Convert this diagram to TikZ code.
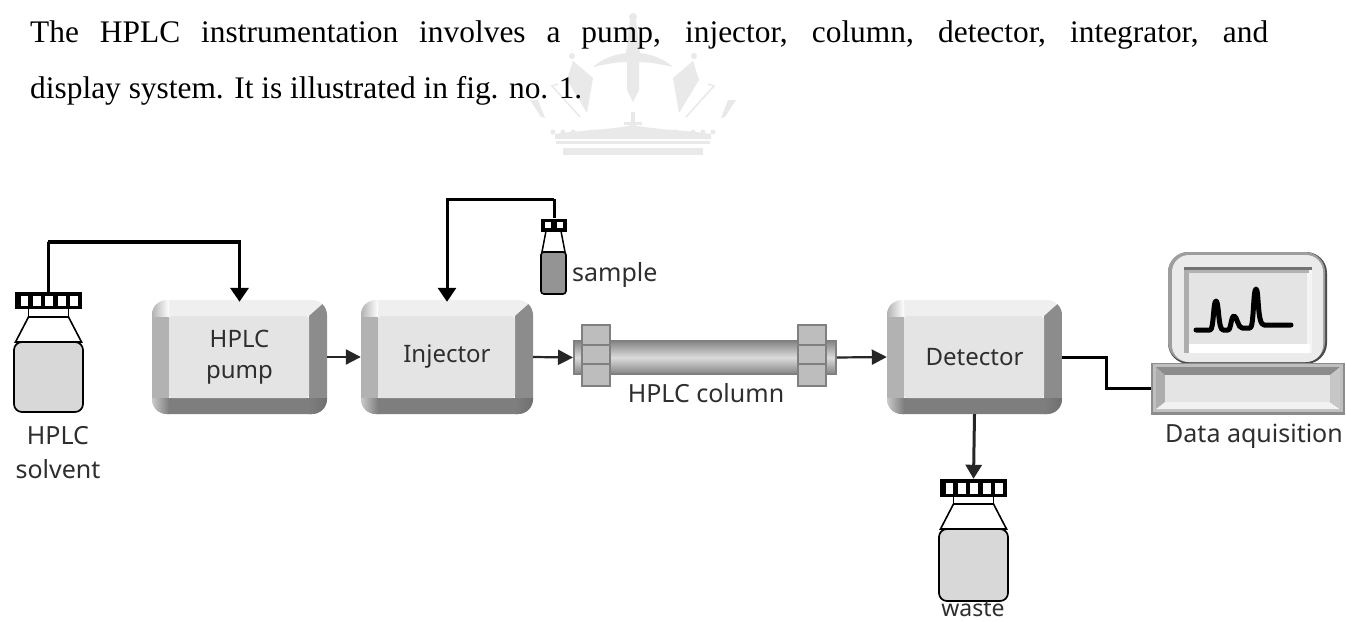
\documentclass[tikz,border=0pt]{standalone}
\usepackage{fontspec}
\usetikzlibrary{arrows.meta,calc}
\setmainfont{Liberation Serif}
\newfontfamily\labfont{Noto Sans}
\definecolor{wm}{HTML}{E9E9E9}
\definecolor{face}{HTML}{E4E4E4}
\definecolor{liquid}{HTML}{D8D8D8}
\definecolor{bevT}{HTML}{EFEFEF}
\definecolor{bevL}{HTML}{B2B2B2}
\definecolor{bevR}{HTML}{8C8C8C}
\definecolor{bevB}{HTML}{7E7E7E}
\definecolor{lab}{HTML}{2E2E2E}
\newcommand{\dn}[1]{\raisebox{-4pt}{#1}}
\tikzset{
 body/.style={font=\fontsize{31.4}{34}\selectfont,anchor=base west,inner sep=0,text=black},
 lbl/.style={font=\labfont\fontsize{25}{34}\selectfont,text=lab,align=center,inner sep=0},
 bevelbox/.style={rectangle,rounded corners=15pt,minimum width=175pt,minimum height=114pt,inner sep=0,
   font=\labfont\fontsize{24}{31}\selectfont,text=lab,align=center,
   path picture={
     \coordinate (nw) at (path picture bounding box.north west);
     \coordinate (ne) at (path picture bounding box.north east);
     \coordinate (sw) at (path picture bounding box.south west);
     \coordinate (se) at (path picture bounding box.south east);
     \coordinate (inw) at ($(nw)+(17,16)$);
     \coordinate (ine) at ($(ne)+(-18,16)$);
     \coordinate (isw) at ($(sw)+(17,-16)$);
     \coordinate (ise) at ($(se)+(-18,-16)$);
     \begin{scope}[sharp corners]
     \fill[bevT] (nw)--(ne)--(ine)--(inw)--cycle;
     \fill[bevL] (nw)--(inw)--(isw)--(sw)--cycle;
     \fill[bevR] (ne)--(ine)--(ise)--(se)--cycle;
     \fill[bevB] (sw)--(isw)--(ise)--(se)--cycle;
     \shade[left color=bevL,right color=white] (nw) rectangle (inw);
     \shade[left color=bevT,right color=bevR] ($(ne)+(-18,0)$) rectangle (ine);
     \shade[left color=bevL!70!white,right color=bevB] ($(sw)+(0,-16)$) rectangle ($(sw)+(17,0)$);
     \shade[left color=bevB,right color=bevR!80!black] ($(se)+(-18,-16)$) rectangle (se);
     \fill[face,rounded corners=3pt] (inw) rectangle (ise);
     \end{scope}
   }},
 flow/.style={line width=2.2pt,draw=black!85,-{Triangle[width=15pt,length=15pt]}},
 feed/.style={line width=3.4pt,draw=black,shorten >=-2pt,-{Triangle[width=18pt,length=14pt]}},
 capbox/.style={rectangle,fill=black,inner sep=0},
 nut/.style={fill=black!26,draw=black!50,line width=2.4pt},
 wmfill/.style={fill=wm,draw=none}
}
\newcommand{\drawbottle}[3]{% x centre, cap top, body bottom (relative to cap top)
 \begin{scope}[shift={(#1,#2)}]
  \draw[black,line width=1.8pt,fill=white] (-20,16)--(-20,25)--(20,25)--(20,16);
  \draw[black,line width=1.6pt,fill=white] (-20,25)--(-33,50)--(33,50)--(20,25)--cycle;
  \draw[black,line width=1.7pt,fill=liquid,rounded corners=8pt] (-34.5,50)--(34.5,50)--(34.5,#3)--(-34.5,#3)--cycle;
 \end{scope}}
\begin{document}
\begin{tikzpicture}[x=1pt,y=-1pt]
\useasboundingbox (0,0) rectangle (1346,621);
\fill[white] (0,0) rectangle (1346,621);

% watermark crown
\fill[wmfill] (633,17) circle (4);
\fill[wmfill] (630,20)--(636,20)--(640,53) .. controls (655,55) and (665,60) .. (673,67) .. controls (660,64) and (648,62) .. (639,62)--(639,90)--(633,102)--(627,90)--(627,62) .. controls (618,62) and (606,64) .. (593,67) .. controls (601,60) and (611,55) .. (626,53)--cycle;
\foreach \m/\s in {0/1,1266/-1}{
 \begin{scope}[shift={(\m,0)},x=\s pt]
  \fill[wmfill] (572,56) circle (3);
  \fill[wmfill] (573,61)--(593,78)--(587,113)--(567,80)--cycle;
  \fill[wmfill] (530,100)--(538,100)--(545,118)--(541,117)--cycle;
  \draw[wm,line width=1.5pt] (558,84)--(552,86)--(580,117);
  \foreach \xx in {553,563,573,590,612}{\fill[wmfill] (\xx,132) circle (2.5);}
 \end{scope}}
\fill[wmfill] (555,134) .. controls (580,130) and (610,130) .. (633,125) .. controls (656,130) and (686,130) .. (711,134)--(711,139)--(555,139)--cycle;
\fill[wmfill] (631,112) rectangle (635,128);
\fill[wmfill] (624,122) rectangle (642,125);
\fill[wmfill] (556,141) rectangle (710,144);
\fill[wmfill] (563,148) rectangle (703,155);

% body text
\node[body] (line1) at (30,42.5) {\makebox[1238pt][s]{The HPLC instrumentation involves a pump, injector, column, detector, integrator, and}};
\node[body] (line2) at (30,98.5) {display system. It is illustrated in fig. no. 1.};

% bottles
\drawbottle{48.5}{292}{120}
\node[capbox,minimum width=67pt,minimum height=17pt] (solventcap) at (48.5,300.5) {};
\foreach \a/\b in {-28/-21,-16/-8,-4/4,9/17,21/29}{\fill[white] (48.5+\a,296) rectangle (48.5+\b,306);}
\drawbottle{973.5}{479}{122}
\node[capbox,minimum width=67pt,minimum height=18pt] (wastecap) at (973.5,488) {};
\foreach \a/\b in {-28/-21,-16/-8,-4/4,9/17,21/29}{\fill[white] (973.5+\a,483) rectangle (973.5+\b,494);}

% sample vial
\draw[black,line width=1.5pt,fill=white] (546,231)--(542,252)--(565,252)--(561,231)--cycle;
\draw[black,line width=1.6pt,fill=black!42,rounded corners=3pt] (541,252) rectangle (566,294);
\node[capbox,minimum width=26pt,minimum height=13pt] (samplecap) at (554,225) {};
\fill[white] (545,222) rectangle (551,228);
\fill[white] (557,222) rectangle (563,228);

% boxes
\node[bevelbox] (pump) at (239.5,357) {\dn{HPLC}\\\dn{pump}};
\node[bevelbox,minimum width=172pt] (injector) at (447,357) {\dn{Injector}};
\node[bevelbox] (detector) at (974.5,357) {\dn{Detector}};

% column
\node[rectangle,minimum width=262pt,minimum height=33pt,inner sep=0,draw=black!50,line width=2pt,
      top color=black!48,bottom color=black!48,middle color=black!14] (column) at (705,357.5) {};
\foreach \xa/\xb in {582/610,798/826}{
 \draw[nut] (\xa,325) rectangle (\xb,386);
 \draw[black!50,line width=2.2pt] (\xa,345)--(\xb,345) (\xa,364)--(\xb,364);
}

% monitor
\fill[black!70,rounded corners=21pt] (1168,252) rectangle (1327,364);
\fill[black!38,rounded corners=20pt] (1168,252) rectangle (1325,362);
\fill[black!8,rounded corners=17pt] (1172,255) rectangle (1323,362);
\fill[black!55] (1184,267) rectangle (1312,353);
\fill[black!32] (1184,270) rectangle (1189,353);
\fill[black!4] (1307,270) rectangle (1312,353);
\fill[black!30] (1187,270) rectangle (1309,273);
\fill[face] (1189,273) rectangle (1307,344);
\fill[white] (1189,344) rectangle (1310,353);
\draw[black,line width=5pt,line join=round,line cap=round]
 (1196,330)--(1210,330) .. controls (1214,330) and (1213,301) .. (1216,301)
 .. controls (1219,301) and (1218,330) .. (1223,330)--(1228,330)
 .. controls (1231,330) and (1231,316) .. (1234,316) .. controls (1237,316) and (1238,328) .. (1242,328)--(1250,328)
 .. controls (1254,328) and (1253,289) .. (1256,289) .. controls (1259,289) and (1257,325) .. (1264,325)--(1291,325);

% base
\node[rectangle,minimum width=194pt,minimum height=52pt,inner sep=0,fill=black!45] (base) at (1248,388.5) {};
\fill[black!25] (1153,364) rectangle (1343,412);
\fill[black!60] (1156,367) rectangle (1340,409);
\fill[black!45] (1156,367)--(1340,367)--(1330,375)--(1165,375)--cycle;
\fill[black!32] (1156,367)--(1165,375)--(1165,402)--(1156,409)--cycle;
\fill[black!5] (1156,409)--(1165,402)--(1330,402)--(1340,409)--cycle;
\fill[black!22] (1340,367)--(1330,375)--(1330,402)--(1340,409)--cycle;
\fill[face] (1165,375) rectangle (1330,402);

% connectors
\coordinate (solventrun) at (48,242);
\coordinate (samplerun) at (554,199);
\coordinate (kink) at (1106,388.5);
\draw[line width=3.2pt] (solventcap.north) |- (solventrun);
\draw[feed] (solventrun) -| (pump.north);
\draw[line width=3pt] (samplecap.north) |- (samplerun);
\draw[feed,line width=3pt] (samplerun) -| (injector.north);
\draw[flow] (pump.east) -- (injector.west);
\draw[flow] (injector.east) -- (column.west);
\draw[flow] (column.east) -- (detector.west);
\draw[line width=3pt] (detector.east) -| (kink) |- (base.west);
\draw[flow,line width=3pt,-{Triangle[width=16pt,length=14pt]}] (detector.south) -- (wastecap.north);

% labels
\node[lbl] (solventlabel) at (58,453) {HPLC\\solvent};
\node[lbl,anchor=west] (samplelabel) at (572,275) {sample};
\node[lbl] (columnlabel) at (706,393) {HPLC column};
\node[lbl,anchor=base,font=\labfont\fontsize{23}{26}\selectfont] (wastelabel) at (973,616) {waste};
\node[lbl] (datalabel) at (1254,436) {Data aquisition};
\end{tikzpicture}
\end{document}
